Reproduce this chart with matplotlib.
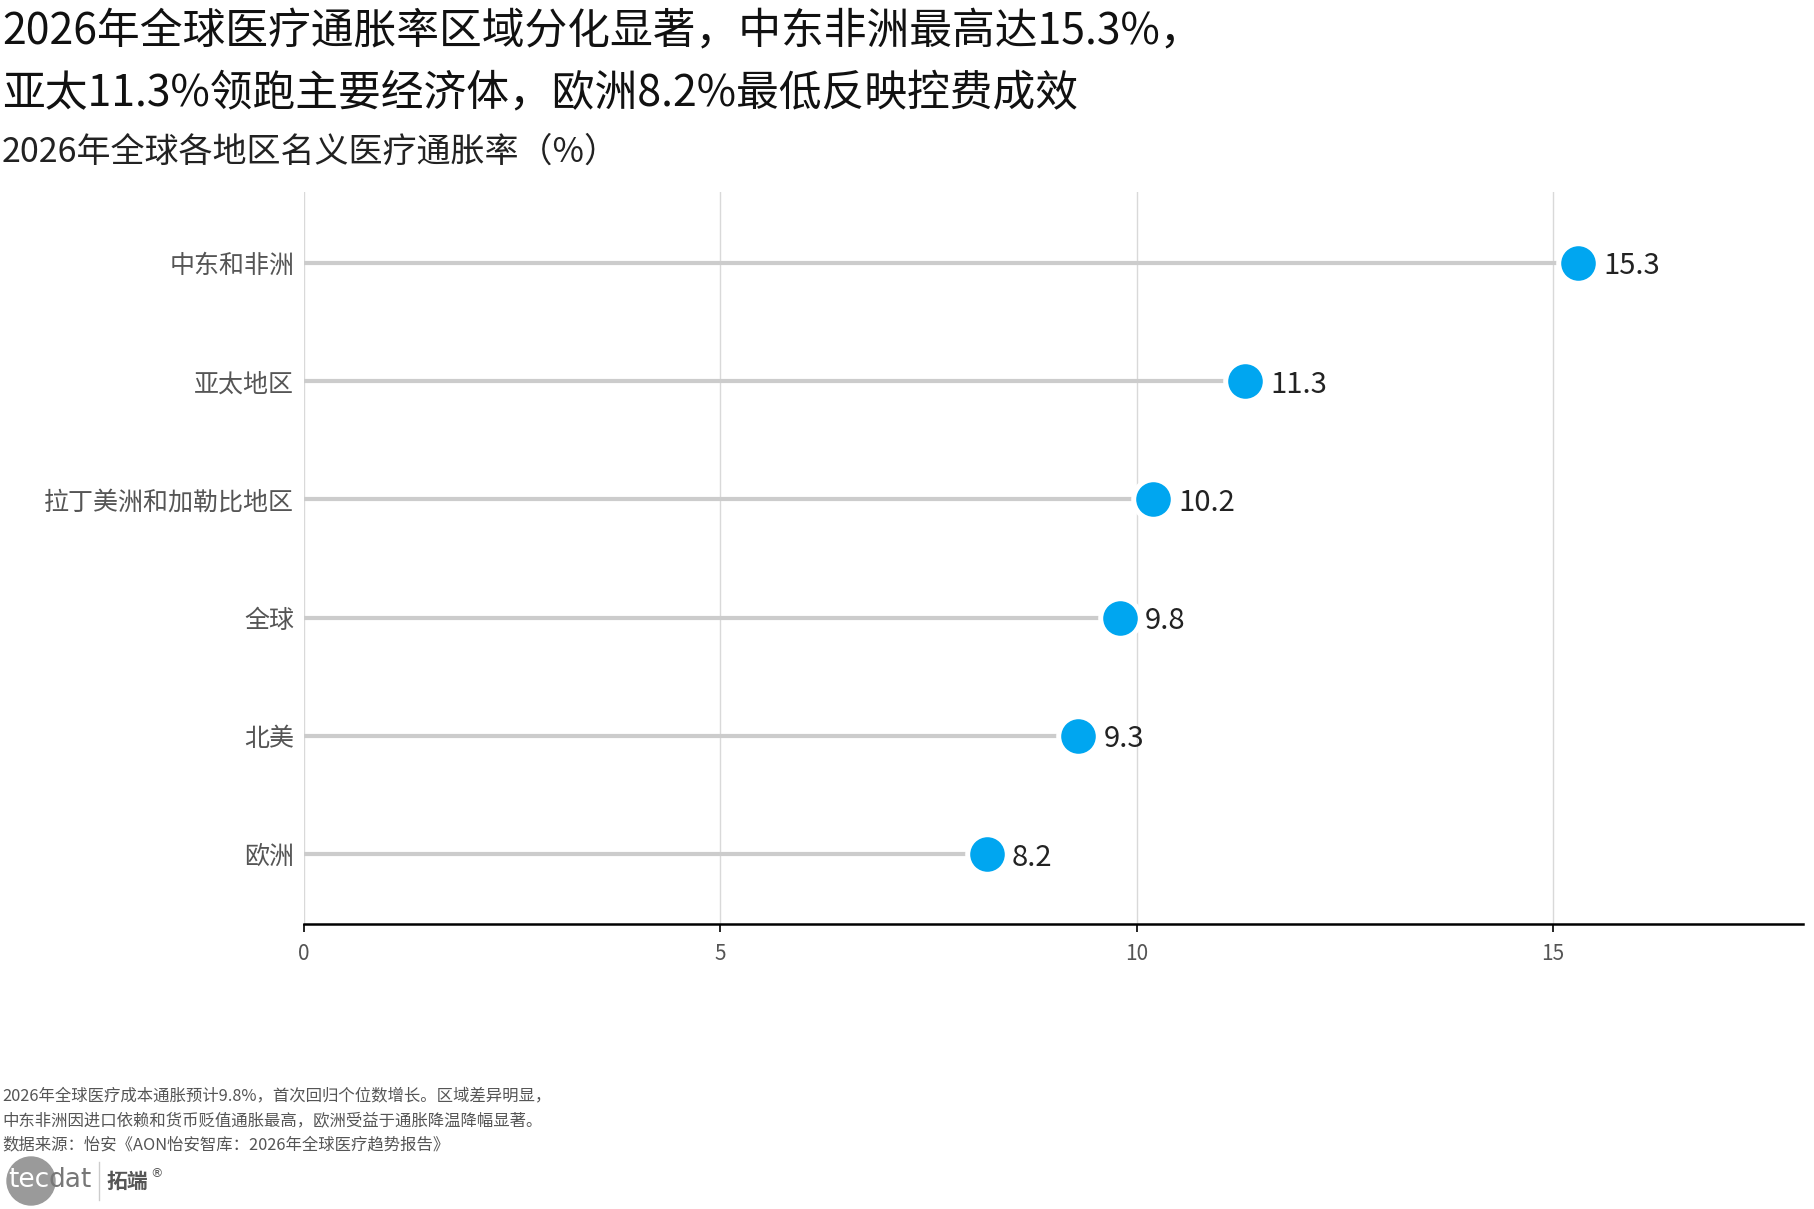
import matplotlib
matplotlib.use("Agg")
import matplotlib.pyplot as plt
from matplotlib.patches import Circle
from matplotlib.lines import Line2D

plt.rcParams['font.family'] = ['Noto Sans CJK SC', 'DejaVu Sans']

# ---- data ----
regions = ["中东和非洲", "亚太地区", "拉丁美洲和加勒比地区", "全球", "北美", "欧洲"]
rates = [15.3, 11.3, 10.2, 9.8, 9.3, 8.2]
x_ticks = [0, 5, 10, 15]

title_lines = ["2026年全球医疗通胀率区域分化显著，中东非洲最高达15.3%，",
               "亚太11.3%领跑主要经济体，欧洲8.2%最低反映控费成效"]
subtitle = "2026年全球各地区名义医疗通胀率（%）"
notes = ["2026年全球医疗成本通胀预计9.8%，首次回归个位数增长。区域差异明显，",
         "中东非洲因进口依赖和货币贬值通胀最高，欧洲受益于通胀降温降幅显著。",
         "数据来源：怡安《AON怡安智库：2026年全球医疗趋势报告》"]

W, H = 1814, 1209
fig = plt.figure(figsize=(W / 100, H / 100), dpi=100)
ax = fig.add_axes([304 / W, 1 - 924 / H, (1803 - 304) / W, (924 - 192) / H])

ypos = list(range(len(regions)))
line_color = "#cccccc"
dot_color = "#00a6f0"

for y, v in zip(ypos, rates):
    ax.plot([0, v], [y, y], color=line_color, lw=3.0, solid_capstyle="butt", zorder=2)
ax.plot(rates, ypos, linestyle="none", marker="o", markersize=28.5,
        markerfacecolor=dot_color, markeredgecolor="white", markeredgewidth=3.6, zorder=3)
for y, v in zip(ypos, rates):
    ax.text(v + 0.3, y, f"{v:.1f}", ha="left", va="center_baseline", fontsize=21,
            color="#222222", zorder=4)

ax.set_xlim(0, 18)
ax.set_ylim(len(regions) - 0.41, -0.6)
ax.set_xticks(x_ticks)
ax.set_xticklabels([str(t) for t in x_ticks])
ax.set_yticks(ypos)
ax.set_yticklabels(regions)
ax.tick_params(axis="y", length=0, pad=7, labelsize=18, labelcolor="#555555")
ax.tick_params(axis="x", length=6, width=1.2, color="#000000", pad=8,
               labelsize=15, labelcolor="#555555")
ax.grid(axis="x", color="#d9d9d9", lw=1.0, zorder=0)
ax.set_axisbelow(True)
for s in ["top", "right", "left"]:
    ax.spines[s].set_visible(False)
ax.spines["bottom"].set_color("#000000")
ax.spines["bottom"].set_linewidth(1.8)

# ---- titles ----
fig.text(2 / W, 1 - 32 / H, title_lines[0], fontsize=30.8, color="#111111", ha="left", va="center")
fig.text(2 / W, 1 - 93 / H, title_lines[1], fontsize=30.8, color="#111111", ha="left", va="center")
fig.text(2 / W, 1 - 152 / H, subtitle, fontsize=24.5, color="#222222", ha="left", va="center")

# ---- footer ----
for i, t in enumerate(notes):
    fig.text(2 / W, 1 - (1096 + i * 24.5) / H, t, fontsize=11.8, color="#555555", ha="left", va="center")

# ---- logo ----
lax = fig.add_axes([0, 0, 1, 1], facecolor="none")
lax.set_xlim(0, W)
lax.set_ylim(H, 0)
lax.axis("off")
lax.add_patch(Circle((31, 1181), 24, color="#9a9a9a", zorder=1))
lax.text(8, 1180, "tec", fontsize=19, color="white", ha="left", va="center", zorder=2,
         family=["DejaVu Sans"])
lax.text(48, 1180, "dat", fontsize=19, color="#777777", ha="left", va="center", zorder=2,
         family=["DejaVu Sans"])
lax.add_line(Line2D([99, 99], [1162, 1200], color="#cccccc", lw=1))
lax.text(106, 1181, "拓端", fontsize=15, color="#555555", fontweight="bold", ha="left", va="center")
lax.text(150, 1174, "®", fontsize=9, color="#555555", ha="left", va="center", family=["DejaVu Sans"])

fig.savefig("out.png", dpi=100)
